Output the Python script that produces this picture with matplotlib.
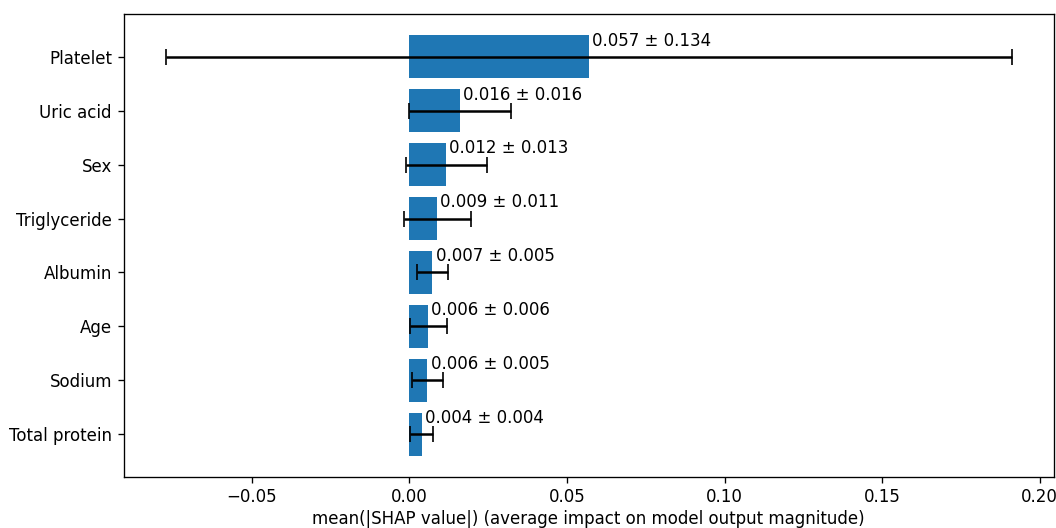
import matplotlib
matplotlib.use("Agg")
import matplotlib.pyplot as plt
import numpy as np

features = ["Platelet", "Uric acid", "Sex", "Triglyceride", "Albumin", "Age", "Sodium", "Total protein"]
means = [0.0569, 0.0160, 0.0117, 0.0088, 0.0073, 0.0060, 0.0057, 0.0039]
stds = [0.1342, 0.0162, 0.0128, 0.0106, 0.0050, 0.0059, 0.0050, 0.0036]
labels = ["0.057 ± 0.134", "0.016 ± 0.016", "0.012 ± 0.013", "0.009 ± 0.011",
          "0.007 ± 0.005", "0.006 ± 0.006", "0.006 ± 0.005", "0.004 ± 0.004"]

fig, ax = plt.subplots(figsize=(8.8, 4.4), dpi=120)
fig.subplots_adjust(left=0.117, right=0.998, top=0.973, bottom=0.097)

y = np.arange(len(features))
ax.barh(y, means, xerr=stds, color="#1f77b4", capsize=5, ecolor="black", height=0.8)
ax.set_yticks(y)
ax.set_yticklabels(features)
ax.invert_yaxis()
for i, (m, lab) in enumerate(zip(means, labels)):
    ax.text(m + 0.001, i - 0.30, lab, va="center", ha="left", fontsize=10)
ax.set_xlabel("mean(|SHAP value|) (average impact on model output magnitude)", labelpad=2)
fig.savefig("out.png", dpi=120)
